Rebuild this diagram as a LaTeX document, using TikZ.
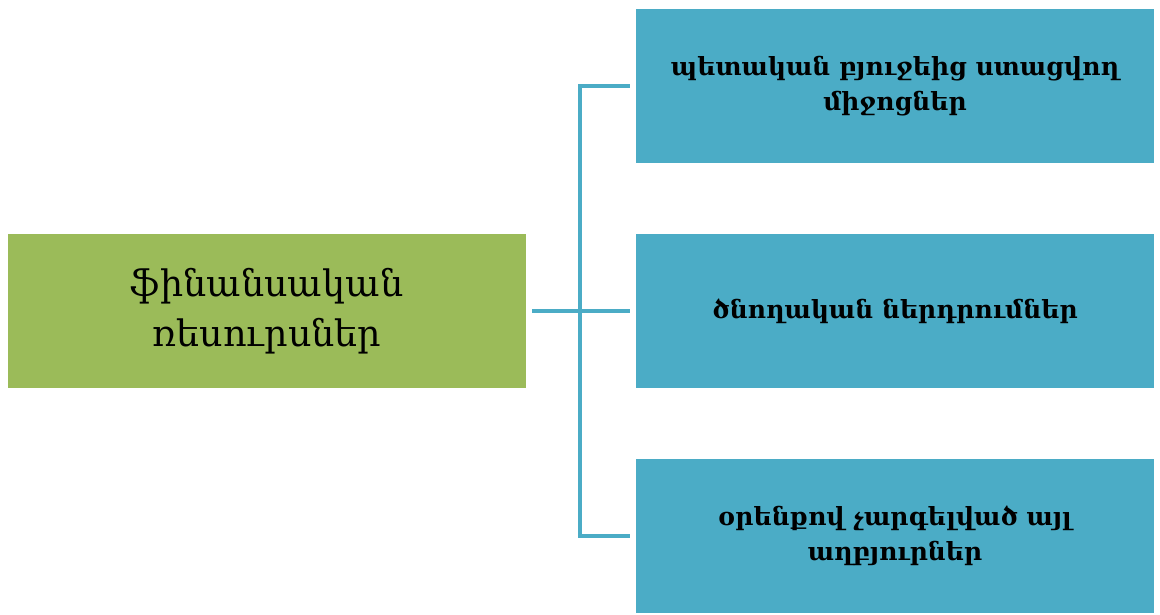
\documentclass[tikz,border=0pt]{standalone}
\usepackage{fontspec}
\setmainfont{DejaVu Serif}
\definecolor{gbox}{HTML}{9BBB59}
\definecolor{bbox}{HTML}{4BACC6}
\tikzset{
  leftbox/.style={fill=gbox, minimum width=518pt, minimum height=154pt, inner sep=0pt, align=center, font=\fontsize{36.5}{50}\selectfont},
  rightbox/.style={fill=bbox, minimum width=518pt, minimum height=154pt, inner sep=0pt, align=center, font=\fontsize{25}{35}\selectfont\bfseries},
  conn/.style={draw=bbox, line width=4pt}
}
\begin{document}
\begin{tikzpicture}[x=1pt,y=-1pt]
\useasboundingbox (0,0) rectangle (1160,614);
\node[leftbox] (L) at (267,311) {ֆինանսական\\ռեսուրսներ};
\node[rightbox] (R1) at (895,86) {պետական բյուջեից ստացվող\\միջոցներ};
\node[rightbox] (R2) at (895,311) {ծնողական ներդրումներ};
\node[rightbox] (R3) at (895,536) {օրենքով չարգելված այլ\\աղբյուրներ};
\coordinate (J1) at (580,86);
\coordinate (J3) at (580,536);
\draw[conn] ([xshift=6pt]L.east) -- ([xshift=-6pt]R2.west);
\draw[conn] ([xshift=-6pt]R1.west) -- (J1) -- (J3) -- ([xshift=-6pt]R3.west);
\end{tikzpicture}
\end{document}
